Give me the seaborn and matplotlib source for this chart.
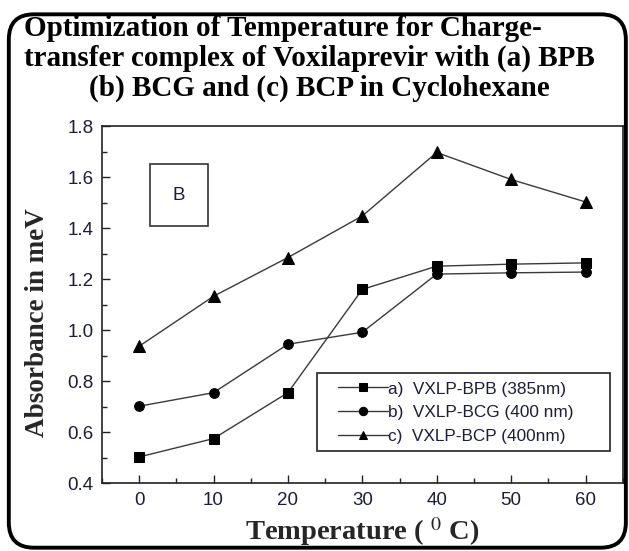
import numpy as np
import matplotlib
matplotlib.use("Agg")
import matplotlib.pyplot as plt
import pandas as pd
import seaborn as sns
from matplotlib.patches import FancyBboxPatch, Rectangle
from matplotlib.ticker import MultipleLocator

# Data
temperature = [0, 10, 20, 30, 40, 50, 60]
bpb = [0.503, 0.575, 0.755, 1.160, 1.251, 1.259, 1.264]
bcg = [0.702, 0.755, 0.945, 0.992, 1.220, 1.225, 1.228]
bcp = [0.937, 1.133, 1.285, 1.448, 1.697, 1.591, 1.503]
labels = ["a)  VXLP-BPB (385nm)", "b)  VXLP-BCG (400 nm)", "c)  VXLP-BCP (400nm)"]

sns.set_style("ticks")
plt.rcParams['font.family'] = ['Liberation Sans', 'DejaVu Sans']
plt.rcParams['mathtext.fontset'] = 'stix'

fig = plt.figure(figsize=(6.29, 5.51), dpi=100)
ax = fig.add_axes([0.162, 0.123, 0.828, 0.648])

# rounded frame around the whole picture
frame = FancyBboxPatch((0.014, 0.006), 0.981, 0.968, boxstyle="round,pad=0,rounding_size=0.04",
                       transform=fig.transFigure, fill=False, edgecolor="black", linewidth=2.8,
                       mutation_aspect=629 / 551)
fig.patches.append(frame)

line_color = "#3a3a3a"
sns.lineplot(x=temperature, y=bpb, ax=ax, color=line_color, lw=1.0, marker="s", markersize=6.5,
             markerfacecolor="black", markeredgecolor="black", label=labels[0])
sns.lineplot(x=temperature, y=bcg, ax=ax, color=line_color, lw=1.0, marker="o", markersize=7,
             markerfacecolor="black", markeredgecolor="black", label=labels[1])
sns.lineplot(x=temperature, y=bcp, ax=ax, color=line_color, lw=1.0, marker="^", markersize=8,
             markerfacecolor="black", markeredgecolor="black", label=labels[2])

ax.set_xlim(-5, 65)
ax.set_ylim(0.4, 1.8)
ax.set_xticks(temperature)
ax.set_yticks(np.arange(0.4, 1.81, 0.2))
ax.yaxis.set_major_formatter(matplotlib.ticker.FormatStrFormatter('%.1f'))
ax.xaxis.set_minor_locator(MultipleLocator(5))
ax.yaxis.set_minor_locator(MultipleLocator(0.1))
ax.tick_params(which="both", direction="in", top=False, right=False, colors="#222", labelcolor="#1c1c3c",
               labelsize=13.5)
ax.tick_params(which="major", length=6, width=1, pad=6)
ax.tick_params(which="minor", length=3.5, width=1)
for s in ax.spines.values():
    s.set_linewidth(1.2)
    s.set_color("#222")

ax.set_xlabel("Temperature ( $^{0}$ C)", family="Liberation Serif", fontweight="bold",
              fontsize=20.5, labelpad=5)
ax.set_ylabel("Absorbance in meV", family="Liberation Serif", fontweight="bold", fontsize=19.5)
ax.yaxis.set_label_coords(-0.10, 0.45)

ax.text(0.148, 0.807, "B", transform=ax.transAxes, ha="center", va="center", fontsize=13.5,
        color="#1c1c3c",
        bbox=dict(boxstyle="square,pad=1.2", facecolor="white", edgecolor="#333", linewidth=1.2))

# legend without its own frame, boxed by a separate rectangle as in the reference
leg = ax.legend(loc="upper left", bbox_to_anchor=(0.453, 0.285), fontsize=12.4, frameon=False,
                handlelength=2.9, handletextpad=0.0, borderpad=0, labelspacing=0.5, borderaxespad=0)
for t in leg.get_texts():
    t.set_color("#1c1c3c")
for h in leg.legend_handles:
    h.set_markersize(6)
ax.add_patch(Rectangle((0.413, 0.09), 0.562, 0.218, transform=ax.transAxes, fill=False,
                       edgecolor="#222", linewidth=1.2, zorder=5))

title_kw = dict(family="Liberation Serif", fontweight="bold", fontsize=21, color="black")
fig.text(0.038, 0.935, "Optimization of Temperature for Charge-", ha="left", va="baseline", **title_kw)
fig.text(0.038, 0.880, "transfer complex of Voxilaprevir with (a) BPB", ha="left", va="baseline", **title_kw)
fig.text(0.508, 0.827, "(b) BCG and (c) BCP in Cyclohexane", ha="center", va="baseline", **title_kw)

fig.savefig("out.png", dpi=100)
